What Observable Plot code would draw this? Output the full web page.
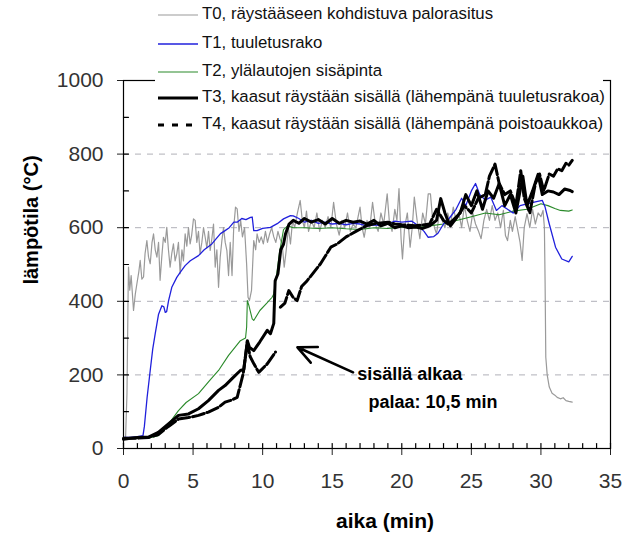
<!DOCTYPE html>
<html><head><meta charset="utf-8">
<script src="https://cdn.jsdelivr.net/npm/d3@7"></script>
<script src="https://cdn.jsdelivr.net/npm/@observablehq/plot@0.6"></script>
<style>
body{margin:0;background:#fff;}
#wrap{position:relative;width:627px;height:541px;overflow:hidden;}
#wrap svg{display:block;}
#legend{position:absolute;left:0;top:0;}
</style></head><body><div id="wrap"></div>
<script>
// ---------- data (time in min, temperature in °C) ----------
const seriesNames = [
  "T0, räystääseen kohdistuva palorasitus",
  "T1, tuuletusrako",
  "T2, ylälautojen sisäpinta",
  "T3, kaasut räystään sisällä (lähempänä tuuletusrakoa)",
  "T4, kaasut räystään sisällä (lähempänä poistoaukkoa)"
];
const T0 = [[0,25],[0.15,30],[0.25,150],[0.33,420],[0.36,493],[0.45,430],[0.55,470],[0.72,375],[0.85,420],[0.96,447],[1.1,480],[1.2,511],[1.32,460],[1.44,466],[1.55,530],[1.68,565],[1.8,520],[1.92,502],[2.05,560],[2.16,583],[2.28,540],[2.4,520],[2.52,560],[2.63,457],[2.75,520],[2.87,574],[3.0,560],[3.11,601],[3.23,540],[3.35,493],[3.47,530],[3.59,556],[3.71,510],[3.83,529],[3.95,560],[4.07,475],[4.2,540],[4.31,510],[4.43,583],[4.55,550],[4.67,600],[4.79,556],[4.9,580],[5.03,624],[5.15,620],[5.27,560],[5.39,590],[5.5,529],[5.63,560],[5.75,600],[5.87,574],[5.99,545],[6.11,590],[6.23,538],[6.35,570],[6.47,610],[6.59,493],[6.71,540],[6.83,438],[6.95,520],[7.07,565],[7.19,600],[7.31,560],[7.43,538],[7.55,470],[7.67,560],[7.8,470],[7.92,600],[8.05,656],[8.17,651],[8.3,590],[8.42,620],[8.55,575],[8.7,600],[8.85,500],[8.95,411],[9.05,402],[9.2,430],[9.36,565],[9.5,540],[9.6,583],[9.75,560],[9.9,575],[10.05,556],[10.2,590],[10.35,560],[10.5,583],[10.65,600],[10.8,575],[10.95,560],[11.1,590],[11.25,570],[11.4,556],[11.55,493],[11.7,540],[11.85,600],[12.0,556],[12.15,620],[12.3,600],[12.5,640],[12.7,674],[12.85,620],[13.0,600],[13.15,645],[13.3,590],[13.5,620],[13.7,600],[13.9,640],[14.1,590],[14.3,620],[14.5,600],[14.7,630],[14.9,600],[15.1,669],[15.3,610],[15.5,580],[15.7,620],[15.9,600],[16.1,640],[16.3,590],[16.5,610],[16.7,600],[17.0,656],[17.15,600],[17.3,574],[17.5,620],[17.7,600],[17.9,669],[18.1,610],[18.3,590],[18.5,640],[18.7,610],[18.95,692],[19.1,620],[19.3,590],[19.5,650],[19.65,620],[19.8,706],[19.95,570],[20.05,515],[20.2,600],[20.4,640],[20.6,547],[20.75,600],[20.9,683],[21.1,620],[21.3,570],[21.5,640],[21.7,610],[21.9,692],[22.06,692],[22.2,630],[22.35,600],[22.5,583],[22.7,640],[22.9,620],[23.1,600],[23.3,640],[23.5,610],[23.7,656],[23.9,620],[24.1,640],[24.3,600],[24.5,660],[24.7,620],[24.9,590],[25.1,640],[25.3,610],[25.5,592],[25.7,570],[25.9,620],[26.1,650],[26.3,620],[26.5,660],[26.7,620],[26.9,640],[27.1,600],[27.3,647],[27.45,579],[27.6,565],[27.8,620],[27.95,590],[28.15,630],[28.3,600],[28.5,560],[28.65,511],[28.8,600],[29.0,638],[29.2,600],[29.4,650],[29.6,610],[29.8,640],[30.0,630],[30.15,647],[30.25,600],[30.3,450],[30.35,248],[30.45,200],[30.6,167],[30.8,150],[31.0,145],[31.17,139],[31.4,135],[31.6,138],[31.8,130],[32.0,128],[32.25,126]];
const T1 = [[0,30],[0.5,30],[1.0,32],[1.4,35],[1.5,60],[1.7,140],[1.92,212],[2.1,270],[2.28,312],[2.52,365],[2.76,388],[2.9,385],[3.0,370],[3.1,372],[3.24,402],[3.47,438],[3.83,465],[4.1,480],[4.43,497],[4.8,510],[5.39,524],[5.8,540],[6.35,556],[6.97,584],[7.3,592],[7.6,600],[7.93,615],[8.17,615],[8.5,625],[8.8,622],[9.13,628],[9.25,629],[9.36,592],[9.6,592],[10.0,598],[10.56,601],[11.05,611],[11.5,624],[12.0,633],[12.2,632],[12.6,625],[13,615],[13.5,620],[14,612],[14.5,615],[15,610],[15.5,612],[16,608],[16.5,612],[17,610],[17.5,605],[18,608],[18.5,606],[19,610],[19.5,618],[20,615],[20.7,618],[21.2,605],[21.6,590],[21.9,574],[22.3,576],[22.6,585],[23.0,610],[23.4,625],[23.9,650],[24.3,680],[24.6,660],[25.0,700],[25.3,720],[25.6,690],[26.0,675],[26.4,683],[26.8,647],[27.2,660],[27.6,650],[28.0,640],[28.5,660],[29.0,665],[29.6,670],[30.1,674],[30.3,656],[30.6,610],[31.05,547],[31.5,515],[32.0,507],[32.25,522]];
const T2 = [[0,28],[1,28],[2,30],[2.5,35],[3,55],[3.5,80],[3.95,103],[4.5,125],[5.39,149],[6.2,185],[6.83,212],[7.55,253],[8.4,293],[8.77,300],[8.85,330],[8.9,402],[9.0,390],[9.25,352],[9.36,348],[9.8,375],[10.3,395],[10.68,411],[10.8,420],[11.0,470],[11.2,530],[11.5,595],[11.8,605],[12.2,600],[13,600],[14,598],[15,600],[16,597],[17,595],[18,600],[19,598],[20,602],[21,600],[22,605],[23,610],[24,620],[25,630],[26,640],[27,635],[28,645],[29,650],[30,665],[30.5,660],[31,652],[31.4,647],[32,645],[32.25,648]];
const T3 = [[0,25],[0.5,28],[1,30],[1.8,31],[2.5,44],[3.23,67],[3.95,90],[4.67,94],[5.39,108],[6.1,130],[6.83,158],[7.3,171],[7.8,190],[8.4,212],[8.65,215],[8.8,260],[8.9,293],[9.05,275],[9.36,266],[9.8,290],[10.33,321],[10.56,312],[10.8,340],[10.85,400],[10.9,456],[11.1,475],[11.3,540],[11.5,555],[11.64,583],[11.9,610],[12.2,620],[12.6,612],[13,625],[13.5,615],[14,622],[14.5,610],[15,625],[15.5,612],[16,620],[16.5,615],[17,618],[17.5,610],[18,620],[18.5,605],[19,612],[19.5,600],[20,605],[20.5,600],[21,602],[21.5,598],[22,605],[22.5,620],[22.8,679],[23.1,640],[23.4,610],[23.8,625],[24.2,640],[24.6,690],[25.0,660],[25.4,700],[25.8,650],[26.2,700],[26.6,680],[27.0,720],[27.4,660],[27.8,690],[28.2,640],[28.5,700],[28.7,740],[29.0,660],[29.4,700],[29.8,745],[30.1,690],[30.5,700],[30.9,697],[31.3,690],[31.7,705],[32.1,701],[32.25,698]];
const T4 = [[0,28],[1,28],[1.8,30],[2.5,38],[3.23,60],[3.95,80],[4.67,84],[5.39,90],[6.1,99],[6.83,112],[7.3,126],[7.8,132],[8.17,139],[8.6,203],[8.9,290],[9.1,250],[9.37,230],[9.72,207],[10.33,230],[10.92,262],[11.1,NaN],[11.28,384],[11.6,395],[11.88,429],[12.2,410],[12.48,402],[12.8,440],[13.2,456],[13.7,480],[14.16,502],[14.9,547],[15.36,556],[16.0,575],[16.8,592],[17.5,606],[18.2,612],[19,615],[19.5,610],[20,608],[21,605],[22,610],[22.5,650],[23,620],[23.5,605],[24,630],[24.5,660],[25,640],[25.5,680],[26,690],[26.3,740],[26.7,773],[27,720],[27.4,690],[27.8,700],[28.2,660],[28.55,755],[28.8,680],[29.2,640],[29.6,720],[29.9,746],[30.2,700],[30.6,746],[30.9,740],[31.2,760],[31.5,755],[31.8,775],[32.0,770],[32.25,783]];
const xMajorTicks = [0, 5, 10, 15, 20, 25, 30, 35];
const xMinorTicks = d3.range(0, 36, 1);
const yMajorTicks = [0, 200, 400, 600, 800, 1000];
const yMinorTicks = d3.range(0, 1001, 100);
const gridValues = [200, 400, 600, 800];
const annotationText = ["sisällä alkaa", "palaa: 10,5 min"];
const annotationAt = [[16.8, 203], [17.6, 125]];
const arrowFrom = [16.5, 207];
const arrowTo = [12.5, 275];
const xLabel = "aika (min)";
const yLabel = "lämpötila (°C)";

// ---------- styles ----------
const styles = [
  {stroke: "#9a9a9a", strokeWidth: 1.2},
  {stroke: "#2020dc", strokeWidth: 1.3},
  {stroke: "#2a8a2a", strokeWidth: 1.1},
  {stroke: "#000", strokeWidth: 3},
  {stroke: "#000", strokeWidth: 3, strokeDasharray: "12,3"}
];
const seriesData = [T0, T1, T2, T3, T4];
const drawOrder = [0, 2, 1, 3, 4];
const FONT = "'Liberation Sans', Arial, sans-serif";

const lineMarks = drawOrder.map(i => Plot.line(seriesData[i], {
  x: d => d[0], y: d => d[1], ...styles[i], strokeLinejoin: "round"
}));

const notes = annotationText.map((t, i) => ({text: t, x: annotationAt[i][0], y: annotationAt[i][1]}));

// inward tick shape for vector marks
const tickShape = {draw(context, l) { context.moveTo(0, 0); context.lineTo(0, -l); }};

const chart = Plot.plot({
  width: 627, height: 541,
  marginLeft: 123, marginRight: 17, marginTop: 80, marginBottom: 93,
  x: {domain: [0, 35]},
  y: {domain: [0, 1000]},
  style: {fontFamily: FONT, fontSize: "21px", color: "#222", background: "white"},
  marks: [
    Plot.ruleY(gridValues, {stroke: "#b0b0b8", strokeDasharray: "6,6", strokeWidth: 1}),
    ...lineMarks,
    Plot.arrow([{x1: arrowFrom[0], y1: arrowFrom[1], x2: arrowTo[0], y2: arrowTo[1]}],
      {x1: "x1", y1: "y1", x2: "x2", y2: "y2", stroke: "#000", strokeWidth: 2.6, headLength: 14, headAngle: 50}),
    Plot.text(notes, {x: "x", y: "y", text: "text", textAnchor: "start", fontWeight: "bold", fontSize: 18, fill: "#000"}),
    Plot.frame({stroke: "#000", strokeWidth: 1.2}),
    Plot.axisX({ticks: xMajorTicks, tickSize: 7, tickPadding: 18, label: null, tickFormat: d => String(d), fill: "#333"}),
    Plot.vector(xMinorTicks, {x: d => d, y: d => 0, length: 5, rotate: 0, anchor: "start", shape: tickShape, stroke: "#000", strokeWidth: 1.2}),
    Plot.axisY({ticks: yMajorTicks, tickSize: 6, tickPadding: 14, label: null, tickFormat: d => String(d), fill: "#333"}),
    Plot.vector(yMinorTicks, {x: d => 0, y: d => d, length: 5, rotate: 90, anchor: "start", shape: tickShape, stroke: "#000", strokeWidth: 1.2})
  ]
});

const wrap = document.getElementById("wrap");
wrap.appendChild(chart);

// axis titles
const svg = d3.select(chart);
svg.append("text").attr("x", 385).attr("y", 522).attr("text-anchor", "middle")
  .attr("dominant-baseline", "middle").attr("font-family", FONT).attr("font-weight", "bold")
  .attr("font-size", 21).attr("fill", "#000").text(xLabel);
svg.append("text").attr("transform", "translate(33,220) rotate(-90)").attr("text-anchor", "middle")
  .attr("dominant-baseline", "middle").attr("font-family", FONT).attr("font-weight", "bold")
  .attr("font-size", 20).attr("fill", "#000").text(yLabel);

// legend: separate SVG overlaid on the chart (white box hides the top of the frame)
const lg = d3.select(wrap).append("svg").attr("id", "legend")
  .attr("width", 627).attr("height", 140);
lg.append("rect").attr("x", 155).attr("y", 0).attr("width", 448).attr("height", 134).attr("fill", "#ffffff");
const rowY = [15, 44, 72, 98, 125];
seriesNames.forEach((name, i) => {
  const st = styles[i];
  lg.append("line").attr("x1", 158).attr("x2", 198).attr("y1", rowY[i]).attr("y2", rowY[i])
    .attr("stroke", st.stroke).attr("stroke-width", st.strokeWidth)
    .attr("stroke-dasharray", i === 4 ? "6,8" : null);
  lg.append("text").attr("x", 202).attr("y", rowY[i]).attr("text-anchor", "start")
    .attr("dominant-baseline", "middle")
    .attr("font-family", FONT).attr("font-size", 16.8).attr("fill", "#111").text(name);
});
</script></body></html>
